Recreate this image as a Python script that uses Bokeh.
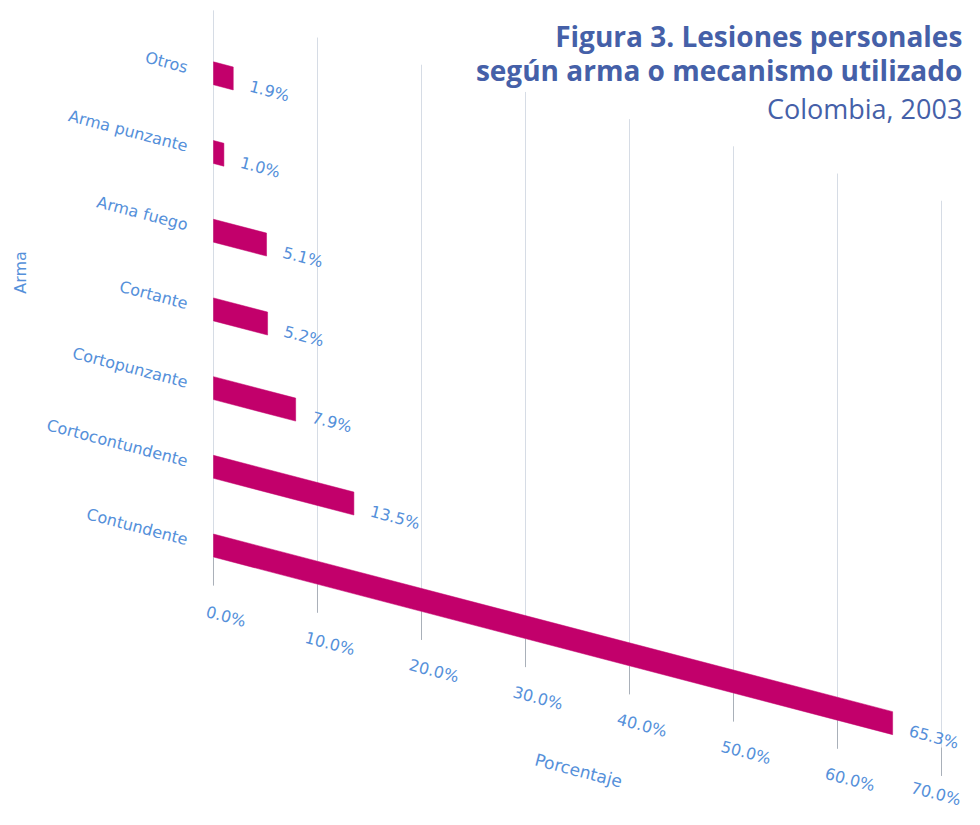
import math
from bokeh.plotting import figure
from bokeh.models import ColumnDataSource, Range1d, Label
from bokeh.embed import file_html
from bokeh.resources import INLINE
from bokeh.core.properties import value

# ---------------- data ----------------
categories = ["Contundente", "Cortocontundente", "Cortopunzante", "Cortante",
              "Arma fuego", "Arma punzante", "Otros"]
values = [65.3, 13.5, 7.9, 5.2, 5.1, 1.0, 1.9]
value_labels = ["65.3%", "13.5%", "7.9%", "5.2%", "5.1%", "1.0%", "1.9%"]
tick_values = [0, 10, 20, 30, 40, 50, 60, 70]
tick_labels = ["0.0%", "10.0%", "20.0%", "30.0%", "40.0%", "50.0%", "60.0%", "70.0%"]

title1 = "Figura 3. Lesiones personales"
title2 = "según arma o mecanismo utilizado"
title3 = "Colombia, 2003"
x_title = "Porcentaje"
y_title = "Arma"

# ---------------- style / geometry ----------------
W, H = 964, 809
X0, X1 = -20.48, 72.21
Y0, Y1 = -3.354, 6.925
SKEW = 0.03456          # rows of downward drift per percent (perspective look)
BAR_H = 0.292           # bar thickness in row units
ANG = -0.256            # text rotation (radians) following the skew
BAR_COLOR = "#c2006b"
LABEL_COLOR = "#5590da"
TITLE_COLOR = "#4560a8"
GRID_COLOR = "#d6dce5"
TICK_COLOR = "#a9b0b9"
FONT = "DejaVu Sans"

p = figure(width=W, height=H,
           x_range=Range1d(X0, X1), y_range=Range1d(Y0, Y1),
           x_axis_type=None, y_axis_type=None,
           output_backend="svg", toolbar_location=None, min_border=0)
p.outline_line_color = None
p.background_fill_color = "white"

rows = list(range(len(categories)))

# gridlines (skewed frame)
g_top = [6.80 - SKEW * t for t in tick_values]
g_bot = [-0.508 - SKEW * t for t in tick_values]
p.segment(x0=tick_values, y0=g_top, x1=tick_values, y1=g_bot,
          line_color=GRID_COLOR, line_width=1)
# tick marks (darker bottom portion)
t_top = [b + 0.36 for b in g_bot]
p.segment(x0=tick_values, y0=t_top, x1=tick_values, y1=g_bot,
          line_color=TICK_COLOR, line_width=1)

# bars as skewed parallelograms
xs = [[0, v, v, 0] for v in values]
ys = [[r + BAR_H / 2, r + BAR_H / 2 - SKEW * v, r - BAR_H / 2 - SKEW * v, r - BAR_H / 2]
      for r, v in zip(rows, values)]
p.patches(xs, ys, fill_color=BAR_COLOR, line_color=BAR_COLOR, line_width=0.5)

# category labels
cat_src = ColumnDataSource(dict(x=[-2.5] * len(rows), y=[r + 0.07 for r in rows], t=categories))
p.text(x="x", y="y", text="t", source=cat_src, angle=ANG,
       text_align="right", text_baseline="middle",
       text_font=value(FONT), text_font_size="16px", text_color=LABEL_COLOR)

# value labels
vx = [v + 1.6 for v in values]
vy = [r - SKEW * (v + 1.6) - 0.04 for r, v in zip(rows, values)]
val_src = ColumnDataSource(dict(x=vx, y=vy, t=value_labels))
p.text(x="x", y="y", text="t", source=val_src, angle=ANG,
       text_align="left", text_baseline="middle",
       text_font=value(FONT), text_font_size="16px", text_color=LABEL_COLOR)

# tick labels (last one kept inside the canvas)
tx = [min(t + 1.2, X1 - 2.75) for t in tick_values]
ty = [max(-0.902 - SKEW * t, Y0 + 0.2) for t in tick_values]
tick_src = ColumnDataSource(dict(x=tx, y=ty, t=tick_labels))
p.text(x="x", y="y", text="t", source=tick_src, angle=ANG,
       text_align="center", text_baseline="middle",
       text_font=value(FONT), text_font_size="16px", text_color=LABEL_COLOR)

# axis titles
p.add_layout(Label(x=35.1, y=-2.859, text=x_title, angle=ANG,
                   text_align="center", text_baseline="middle",
                   text_font=FONT, text_font_size="17px", text_color=LABEL_COLOR))
p.add_layout(Label(x=-18.56, y=3.47, text=y_title, angle=math.pi / 2,
                   text_align="center", text_baseline="middle",
                   text_font=FONT, text_font_size="16px", text_color=LABEL_COLOR))

# title block (right aligned)
TX = 72.0
p.add_layout(Label(x=TX, y=6.48, text=title1, text_align="right",
                   text_baseline="alphabetic", text_font="Open Sans",
                   text_font_style="bold", text_font_size="28px", text_color=TITLE_COLOR))
p.add_layout(Label(x=TX, y=6.036, text=title2, text_align="right",
                   text_baseline="alphabetic", text_font="Open Sans",
                   text_font_style="bold", text_font_size="28px", text_color=TITLE_COLOR))
p.add_layout(Label(x=TX, y=5.553, text=title3, text_align="right",
                   text_baseline="alphabetic", text_font="Open Sans",
                   text_font_size="27px", text_color=TITLE_COLOR))

open("out.html", "w").write(file_html(p, INLINE))
